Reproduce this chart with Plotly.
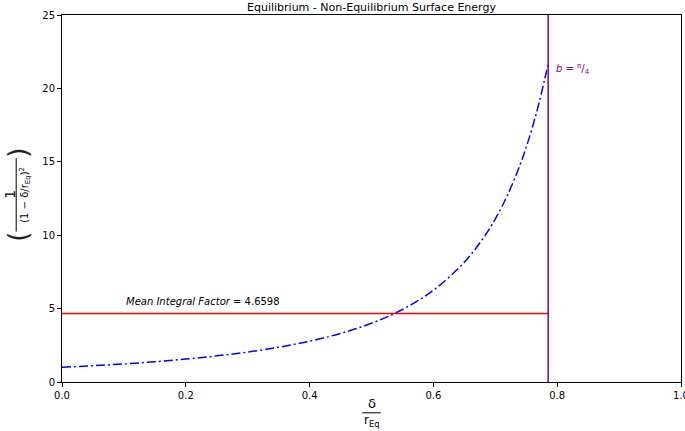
import plotly.graph_objects as go

# values
delta_ratio = [0.0, 0.05, 0.1, 0.15, 0.2, 0.25, 0.3, 0.35, 0.4, 0.45, 0.5, 0.55,
               0.6, 0.65, 0.68, 0.7, 0.72, 0.74, 0.75, 0.76, 0.77, 0.78, 0.785]
integral_factor = [1.00, 1.11, 1.23, 1.38, 1.56, 1.78, 2.04, 2.37, 2.78, 3.31, 4.00,
                   4.94, 6.25, 8.16, 9.77, 11.11, 12.76, 14.79, 16.00, 17.36, 18.90,
                   20.66, 21.60]
b_limit = 0.7854
mean_factor = 4.6598

FONT = "DejaVu Sans, Verdana, sans-serif"

fig = go.Figure()

# curve
fig.add_trace(
    go.Scatter(
        x=delta_ratio,
        y=integral_factor,
        mode="lines",
        line={"color": "#0000ff", "width": 1.5, "dash": "9px,3px,2px,3px", "shape": "spline"},
        showlegend=False,
    )
)

# mean factor line
fig.add_trace(
    go.Scatter(
        x=[0.0, b_limit],
        y=[mean_factor, mean_factor],
        mode="lines",
        line={"color": "red", "width": 1.5},
        showlegend=False,
    )
)

# b = pi/4 vertical
fig.add_trace(
    go.Scatter(
        x=[b_limit, b_limit],
        y=[0, 25],
        mode="lines",
        line={"color": "purple", "width": 1.5},
        showlegend=False,
    )
)

axis_style = dict(
    showline=True,
    linecolor="black",
    linewidth=1,
    mirror=True,
    ticks="outside",
    ticklen=4,
    tickcolor="black",
    showgrid=False,
    zeroline=False,
    automargin=False,
    ticklabeloverflow="allow",
    tickfont={"size": 10, "color": "black", "family": FONT},
)

fig.update_xaxes(range=[0, 1], tickvals=[0, 0.2, 0.4, 0.6, 0.8, 1.0],
                 ticktext=["0.0", "0.2", "0.4", "0.6", "0.8", "1.0"], **axis_style)
fig.update_yaxes(range=[0, 25], tickvals=[0, 5, 10, 15, 20, 25], **axis_style)

annotations = [
    # title
    dict(x=0.5, y=1, xref="paper", yref="paper", xanchor="center", yanchor="bottom",
         yshift=-1, text="Equilibrium - Non-Equilibrium Surface Energy",
         showarrow=False, font={"size": 11, "color": "black", "family": FONT}),
    # mean label
    dict(x=0.1, y=4.95, xref="x", yref="y", xanchor="left", yanchor="bottom",
         text="<i>Mean Integral Factor</i> = 4.6598", showarrow=False,
         font={"size": 10, "color": "black", "family": FONT}),
    # b label
    dict(x=0.795, y=21.3, xref="x", yref="y", xanchor="left", yanchor="middle",
         text="<i>b</i> = <sup>π</sup>/<sub>4</sub>", showarrow=False,
         font={"size": 10, "color": "purple", "family": FONT}),
    # x label
    dict(x=0.5, y=0, xref="paper", yref="paper", xanchor="center", yanchor="middle",
         yshift=-21, text="δ", showarrow=False,
         font={"size": 13, "color": "black", "family": FONT}),
    dict(x=0.5, y=0, xref="paper", yref="paper", xanchor="center", yanchor="middle",
         yshift=-39, text="r<sub>Eq</sub>", showarrow=False,
         font={"size": 12, "color": "black", "family": FONT}),
    # y label
    dict(x=0, y=0.51, xref="paper", yref="paper", xanchor="center", yanchor="middle",
         xshift=-52, text="1", textangle=-90, showarrow=False,
         font={"size": 14, "color": "black", "family": FONT}),
    dict(x=0, y=0.51, xref="paper", yref="paper", xanchor="center", yanchor="middle",
         xshift=-37, text="(1 − δ/r<sub>Eq</sub>)<sup>2</sup>", textangle=-90,
         showarrow=False, font={"size": 10, "color": "black", "family": FONT}),
    dict(x=0, y=0.51, xref="paper", yref="paper", xanchor="center", yanchor="middle",
         xshift=-44, yshift=-42, text="(", textangle=-90, showarrow=False,
         font={"size": 26, "color": "#222222", "family": "DejaVu Sans ExtraLight, DejaVu Sans"}),
    dict(x=0, y=0.51, xref="paper", yref="paper", xanchor="center", yanchor="middle",
         xshift=-44, yshift=42, text=")", textangle=-90, showarrow=False,
         font={"size": 26, "color": "#222222", "family": "DejaVu Sans ExtraLight, DejaVu Sans"}),
]

shapes = [
    # x label fraction bar
    dict(type="line", xref="paper", yref="paper", x0=0.485, x1=0.515,
         y0=-0.084, y1=-0.084, line={"color": "black", "width": 1}),
    # y label fraction bar
    dict(type="line", xref="paper", yref="paper", x0=-0.074, x1=-0.074,
         y0=0.41, y1=0.61, line={"color": "black", "width": 1}),
]

fig.update_layout(
    width=685,
    height=431,
    margin={"l": 62, "r": 4, "t": 15, "b": 49},
    plot_bgcolor="white",
    paper_bgcolor="white",
    font={"family": FONT, "color": "black"},
    annotations=annotations,
    shapes=shapes,
)

# drop the browser's default body margin so the figure sits at the page corner
fig.write_html(
    "out.html",
    config={"displayModeBar": False},
    post_script="document.body.style.margin='0';",
)
